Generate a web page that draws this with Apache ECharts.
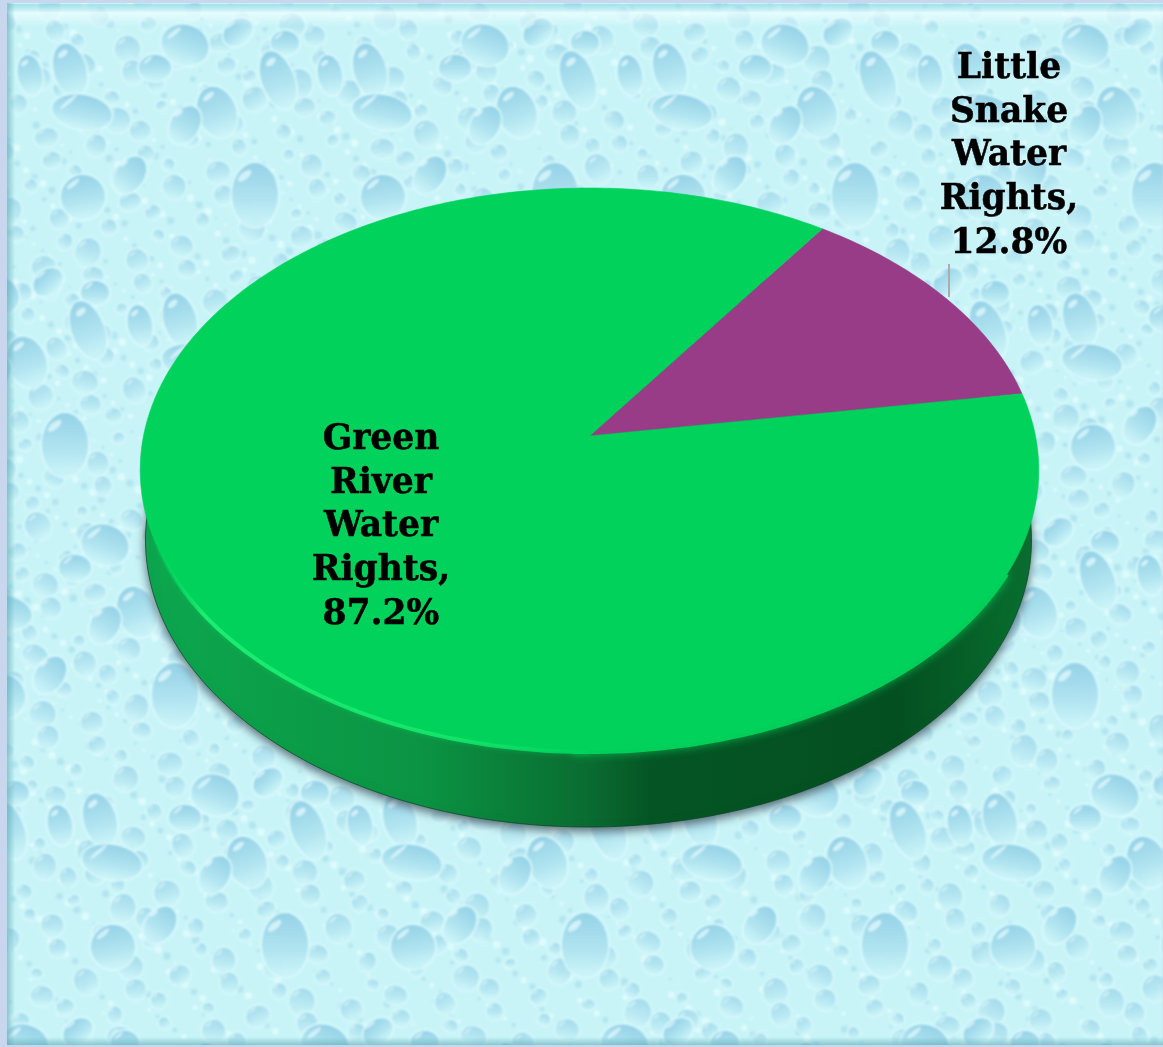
<!DOCTYPE html>
<html>
<head>
<meta charset="utf-8">
<title>Water rights share</title>
<style>
  html, body { margin: 0; padding: 0; background: #c8d6ee; }
  #chart { width: 1163px; height: 1047px; }
</style>
<script src="https://cdn.jsdelivr.net/npm/echarts@6/dist/echarts.min.js"></script>
</head>
<body>
<div id="chart"></div>
<script>
// Shares of water rights, in percent, clockwise from the first slice angle.
const sliceNames = ['Little Snake Water Rights', 'Green River Water Rights'];
const sliceValues = [12.8, 87.2];
const sliceColors = ['#983c88', '#00d25c'];
const firstSliceAngle = 35;

// Perspective disc: a unit circle projected onto the page around its apex.
const disc = { x: 589.5, y: 436, a: 277.9, b: 446, k: -0.1206 };
const wall = { x: 588.5, y: 540, rx: 443, ry: 287 };
const labelAnchors = [{ x: 1009, y: 156.5 }, { x: 381, y: 527.5 }];
const leader = { x: 949, y1: 264, y2: 297 };

function project(deg) {
  const t = deg * Math.PI / 180;
  const u = Math.sin(t), v = -Math.cos(t);
  const w = 1 + disc.k * v;
  return [disc.x + disc.b * u / w, disc.y + disc.a * v / w];
}
function arc(from, to) {
  const pts = [];
  const n = Math.max(2, Math.ceil(Math.abs(to - from)));
  for (let i = 0; i <= n; i++) pts.push(project(from + (to - from) * i / n));
  return pts;
}
function wallOutline() {
  const pts = [];
  for (let d = 0; d < 360; d++) {
    const t = d * Math.PI / 180;
    pts.push([wall.x + wall.rx * Math.cos(t), wall.y + wall.ry * Math.sin(t)]);
  }
  return pts;
}

// Water-drop backdrop: [x, y, rx, ry, rotation] for one repeating block.
const dropBlock = [
  [185,45,24,20,20],[238,32,16,12,-40],[285,43,14,12,0],[70,70,16,27,-15],[155,68,16,13,0],
  [278,80,16,30,-20],[82,112,30,17,10],[217,112,19,26,-20],[185,125,14,20,30],
  [130,175,14,20,35],[83,197,22,22,-10],[255,195,23,32,0],[30,75,12,20,-10]
];
const blockW = 300, blockH = 250, blockShift = 110;

function drawDrop(ctx, x, y, rx, ry, rot, strength) {
  ctx.save();
  ctx.translate(x, y);
  ctx.rotate(rot * Math.PI / 180);
  ctx.beginPath();
  ctx.ellipse(0, 0, rx + 2.2, ry + 2.2, 0, 0, Math.PI * 2);
  ctx.fillStyle = 'rgba(218,250,252,' + 0.8 * strength + ')';
  ctx.fill();
  const g = ctx.createLinearGradient(0, -ry, 0, ry);
  g.addColorStop(0, 'rgba(146,208,230,' + strength + ')');
  g.addColorStop(0.6, 'rgba(176,228,240,' + strength + ')');
  g.addColorStop(1, 'rgba(198,242,247,' + 0.7 * strength + ')');
  ctx.beginPath();
  ctx.ellipse(0, 0, rx, ry, 0, 0, Math.PI * 2);
  ctx.fillStyle = g;
  ctx.fill();
  ctx.restore();
  if (Math.max(rx, ry) > 6) {
    ctx.save();
    ctx.translate(x - rx * 0.45, y - ry * 0.6);
    ctx.rotate(-40 * Math.PI / 180);
    ctx.beginPath();
    ctx.ellipse(0, 0, rx * 0.36, Math.max(1.2, ry * 0.11), 0, 0, Math.PI * 2);
    ctx.fillStyle = 'rgba(226,249,252,' + 0.8 * strength + ')';
    ctx.fill();
    ctx.restore();
  }
}

function buildBackdrop() {
  const W = 1163, H = 1047;
  const raw = document.createElement('canvas');
  raw.width = W; raw.height = H;
  const rctx = raw.getContext('2d');
  rctx.fillStyle = '#c8f4f8';
  rctx.fillRect(0, 0, W, H);
  // Fine grain and mid-sized bubbles on a low-discrepancy sequence, so they spread evenly.
  for (let i = 0; i < 3200; i++) {
    const px = (i * 0.6180339887) % 1 * W;
    const py = (i * 0.7548776662) % 1 * H;
    const r = 1.2 + ((i * 0.5698402910) % 1) * 2.8;
    rctx.beginPath();
    rctx.arc(px, py, r, 0, Math.PI * 2);
    rctx.fillStyle = i % 2 ? 'rgba(172,224,236,0.7)' : 'rgba(226,252,253,0.85)';
    rctx.fill();
  }
  for (let i = 1; i < 1100; i++) {
    const px = (i * 0.7548776662) % 1 * W;
    const py = (i * 0.5698402910) % 1 * H;
    const r = 5 + ((i * 0.6180339887) % 1) * 8;
    const stretch = 0.8 + ((i * 0.4142135624) % 1) * 0.4;
    drawDrop(rctx, px, py, r, r * stretch, (i * 37) % 60 - 30, 0.7);
  }
  for (let row = 0; row * blockH < H + blockH; row++) {
    const off = (row * blockShift) % blockW;
    for (let col = -1; col * blockW < W + blockW; col++) {
      dropBlock.forEach(d => {
        drawDrop(rctx, d[0] + col * blockW + off, d[1] + row * blockH, d[2], d[3], d[4], 0.95);
      });
    }
  }
  const cv = document.createElement('canvas');
  cv.width = W; cv.height = H;
  const ctx = cv.getContext('2d');
  ctx.filter = 'blur(1.1px)';
  ctx.drawImage(raw, 0, 0);
  ctx.filter = 'none';
  // Bright band along the top and the slide frame.
  let g = ctx.createLinearGradient(0, 4, 0, 26);
  g.addColorStop(0, 'rgba(120,205,220,0.45)');
  g.addColorStop(0.4, 'rgba(240,255,255,0.75)');
  g.addColorStop(1, 'rgba(240,255,255,0)');
  ctx.fillStyle = g;
  ctx.fillRect(8, 4, W - 8, 22);
  g = ctx.createLinearGradient(7, 0, 15, 0);
  g.addColorStop(0, 'rgba(90,170,180,0.6)');
  g.addColorStop(1, 'rgba(90,170,180,0)');
  ctx.fillStyle = g;
  ctx.fillRect(7, 0, 8, H);
  g = ctx.createLinearGradient(0, H - 10, 0, H - 2);
  g.addColorStop(0, 'rgba(90,170,180,0)');
  g.addColorStop(1, 'rgba(90,170,180,0.6)');
  ctx.fillStyle = g;
  ctx.fillRect(0, H - 10, W, 8);
  ctx.fillStyle = '#c8d6ee';
  ctx.fillRect(0, 0, 7, H);
  ctx.fillRect(0, 0, W, 3);
  ctx.fillRect(0, H - 2, W, 2);
  return cv;
}

const LG = echarts.graphic.LinearGradient;

function renderWall() {
  return {
    type: 'polygon',
    shape: { points: wallOutline() },
    style: {
      fill: new LG(0, 0, 1, 0, [
        { offset: 0, color: '#0ca74e' },
        { offset: 0.31, color: '#0b9443' },
        { offset: 0.5, color: '#0a6c31' },
        { offset: 0.57, color: '#055524' },
        { offset: 0.85, color: '#044f20' },
        { offset: 1, color: '#08702f' }
      ]),
      stroke: 'rgba(3,70,30,0.7)',
      lineWidth: 1,
      shadowBlur: 10,
      shadowColor: 'rgba(70,85,95,0.85)',
      shadowOffsetY: 4
    },
    silent: true
  };
}

function renderSlice(params, api) {
  const i = params.dataIndex;
  const before = sliceValues.slice(0, i).reduce((a, b) => a + b, 0);
  const value = api.value(1);
  const start = firstSliceAngle + before * 3.6;
  const end = start + value * 3.6;
  return {
    type: 'polygon',
    shape: { points: [[disc.x, disc.y]].concat(arc(start, end)) },
    style: { fill: sliceColors[i], stroke: sliceColors[i], lineWidth: 0.6 }
  };
}

// Category and share text, with the leader line of the outside label.
function renderLabel(params, api) {
  const i = params.dataIndex;
  const lines = sliceNames[i].split(' ').join('\n') + ',\n' + api.value(1).toFixed(1) + '%';
  const children = [{
    type: 'text',
    style: {
      x: labelAnchors[i].x,
      y: labelAnchors[i].y,
      text: lines,
      fill: '#000000',
      stroke: '#000000',
      lineWidth: 0.5,
      font: 'bold 34.5px "DejaVu Serif", serif',
      lineHeight: 43.7,
      align: 'center',
      verticalAlign: 'middle'
    }
  }];
  if (i === 0) {
    children.push({
      type: 'line',
      shape: { x1: leader.x, y1: leader.y1, x2: leader.x, y2: leader.y2 },
      style: { stroke: '#b4a9a9', lineWidth: 2 }
    });
  }
  return { type: 'group', children };
}

// Soft rim where the top surface rolls over into the side wall.
function renderRim() {
  return {
    type: 'group',
    children: [{
      type: 'polyline',
      shape: { points: arc(118, 182) },
      style: {
        fill: null, stroke: '#00cf5a', lineWidth: 4,
        shadowBlur: 9, shadowColor: '#00d25c'
      }
    }, {
      type: 'polyline',
      shape: { points: arc(180, 250) },
      style: {
        fill: null,
        stroke: new LG(0, 0, 1, 0, [
          { offset: 0, color: 'rgba(0,210,92,0)' },
          { offset: 0.12, color: 'rgba(28,236,112,1)' },
          { offset: 0.7, color: 'rgba(22,230,106,0.9)' },
          { offset: 1, color: 'rgba(0,210,92,0.9)' }
        ]),
        lineWidth: 4,
        shadowBlur: 5, shadowColor: 'rgba(0,216,96,0.55)'
      }
    }]
  };
}

const sliceData = sliceValues.map((v, i) => ({ name: sliceNames[i], value: [i, v] }));

const chart = echarts.init(document.getElementById('chart'), null, { renderer: 'canvas' });
chart.setOption({
  animation: false,
  backgroundColor: { image: buildBackdrop(), repeat: 'no-repeat' },
  series: [{
    type: 'custom', coordinateSystem: 'none', z: 1,
    data: [0], renderItem: renderWall, silent: true
  }, {
    type: 'custom', coordinateSystem: 'none', z: 2,
    dimensions: ['index', 'share'], data: sliceData, renderItem: renderSlice
  }, {
    type: 'custom', coordinateSystem: 'none', z: 3,
    data: [0], renderItem: renderRim, silent: true
  }, {
    type: 'custom', coordinateSystem: 'none', z: 4,
    dimensions: ['index', 'share'], data: sliceData, renderItem: renderLabel, silent: true
  }]
});
</script>
</body>
</html>
